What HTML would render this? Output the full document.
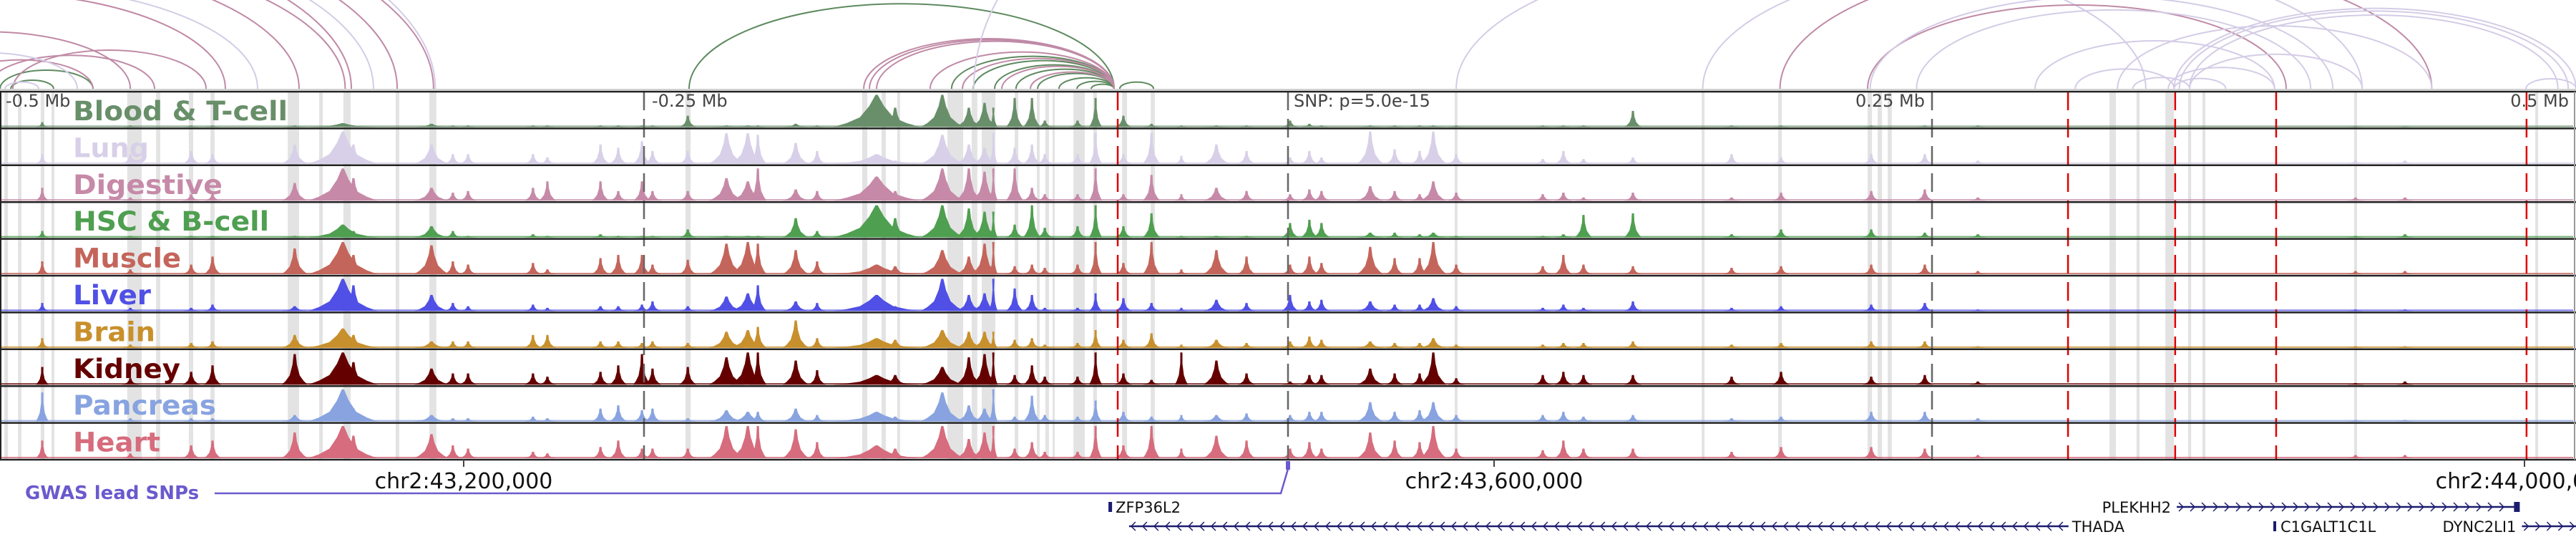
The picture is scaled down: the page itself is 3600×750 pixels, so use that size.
<!DOCTYPE html>
<html><head><meta charset="utf-8"><style>
html,body{margin:0;padding:0;background:#fff;}
svg{display:block;}
text{font-family:"DejaVu Sans","Liberation Sans",sans-serif;}
</style></head><body>
<svg id="chart" width="3600" height="750" viewBox="0 0 3600 750" xmlns="http://www.w3.org/2000/svg">
<g id="arcs"></g>
<line x1="0" y1="125" x2="3600" y2="125" stroke="#d0d0d0" stroke-width="2"/>
<g id="bands"></g>
<g id="tracks"></g>
<g id="vlines"></g>
<g id="frame"></g>
<g id="labels"></g>
<g id="axis">
  <text x="8" y="149" font-size="24" fill="#444">-0.5 Mb</text>
  <text x="911" y="149" font-size="24" fill="#444">-0.25 Mb</text>
  <text x="1808" y="149" font-size="24" fill="#444">SNP: p=5.0e-15</text>
  <text x="2690" y="149" font-size="24" fill="#444" text-anchor="end">0.25 Mb</text>
  <text x="3590" y="149" font-size="24" fill="#444" text-anchor="end">0.5 Mb</text>
</g>
<g id="bottom"></g>
<g id="gwas">
  <text x="35" y="697" font-size="26" font-weight="bold" fill="#6a5acd">GWAS lead SNPs</text>
</g>
<g id="genes"></g>
</svg>
<script>
// ---- data ----
const tissues = ["Blood & T-cell","Lung","Digestive","HSC & B-cell","Muscle","Liver","Brain","Kidney","Pancreas","Heart"];
const tissueColors = ["#688f69","#d8d0e8","#c68aa8","#4f9f50","#c4655b","#5050e6","#c8902c","#650000","#88a3e0","#d66c7d"];
const labelWidths = [300,106,209,274,151,109,115,150,200,122];
const peakKb = [-483.6,-449.4,-425.8,-417.5,-385.6,-366.9,-362.8,-332.5,-324.2,-318.3,
 -293.1,-287.5,-266.9,-260,-250.8,-246.7,-233,-218,-209.7,-205.8,
 -191.1,-182.8,-159.7,-152.5,-134.2,-123.9,-117.8,-114.4,-106.1,-99.4,
 -94.4,-81.7,-74.7,-63.9,-53,-41.4,-27.8,-16.1,0.8,8.3,
 13,31.9,41.4,51.1,56.4,65.3,98.9,106.9,114.7,133.9,
 172.2,191.4,226.4,247.2,267.8,414.4,433.6];
const peakWidthKb = [1.5,2,2,2,3,8,3,4,2,2,
 2,2,2,2,2,2,2,4,4,2,
 3,2,10,3,5,3,3,1,2,2,
 2,2,1.5,2,2,1.5,3,2,2,2,
 2,3,2,2,3,2,2,2,2,2,
 2,2,2,2,2,2,2];
const hBlood = [0.15,0.05,0.05,0.05,0.05,0.12,0.05,0.1,0.05,0.05, 0.05,0.05,0.05,0.05,0.05,0.05,0.35,0.05,0.05,0.05, 0.1,0.05,1.0,0.6,1.0,0.6,0.75,0.6,0.9,0.9, 0.2,0.2,0.9,0.35,0.1,0.05,0.05,0.05,0.2,0.1, 0.05,0.05,0.05,0.05,0.05,0.05,0.05,0.05,0.05,0.5, 0.05,0.05,0.05,0.05,0.05,0.03,0.03];
const hLung = [0.3,0.3,0.4,0.3,0.6,1.0,0.6,0.6,0.3,0.3, 0.3,0.2,0.6,0.5,0.7,0.4,0.4,0.95,0.95,0.9, 0.65,0.4,0.3,0.1,0.9,0.6,0.5,0.95,0.5,0.6, 0.3,0.3,0.95,0.3,0.95,0.25,0.6,0.4,0.2,0.4, 0.2,1.0,0.45,0.4,1.0,0.3,0.15,0.4,0.15,0.2, 0.3,0.2,0.3,0.3,0.1,0.1,0.1];
const hDigestive = [0.4,0.1,0.2,0.2,0.55,1.0,0.7,0.4,0.25,0.3, 0.4,0.6,0.6,0.3,0.6,0.3,0.3,0.7,0.6,1.0, 0.35,0.3,0.75,0.3,1.0,1.0,0.9,1.0,1.0,0.4, 0.2,0.2,1.0,0.2,0.8,0.2,0.4,0.3,0.2,0.35, 0.3,0.45,0.3,0.2,0.6,0.25,0.2,0.25,0.1,0.25, 0.1,0.25,0.3,0.35,0.1,0.1,0.1];
const hHSC = [0.2,0.05,0.05,0.05,0.05,0.4,0.2,0.35,0.2,0.05, 0.1,0.05,0.1,0.05,0.05,0.05,0.25,0.05,0.05,0.05, 0.6,0.2,1.0,0.6,1.0,0.9,0.8,0.8,0.4,1.0, 0.3,0.35,1.0,0.35,0.75,0.05,0.05,0.05,0.45,0.55, 0.45,0.15,0.15,0.1,0.15,0.05,0.05,0.1,0.7,0.75, 0.1,0.25,0.25,0.15,0.1,0.05,0.1];
const hMuscle = [0.4,0.15,0.3,0.55,0.8,1.0,0.6,0.9,0.4,0.3, 0.35,0.15,0.5,0.6,0.6,0.3,0.45,0.95,1.0,0.95, 0.75,0.4,0.3,0.25,0.75,0.55,0.95,1.0,0.25,0.3, 0.2,0.3,1.0,0.35,1.0,0.15,0.75,0.55,0.3,0.55, 0.35,0.85,0.5,0.5,1.0,0.3,0.25,0.6,0.3,0.25, 0.2,0.25,0.3,0.3,0.1,0.1,0.1];
const hLiver = [0.25,0.1,0.1,0.2,0.15,1.0,0.8,0.5,0.25,0.15, 0.2,0.1,0.15,0.15,0.2,0.3,0.15,0.45,0.55,0.8, 0.3,0.25,0.5,0.15,1.0,0.5,0.55,1.0,0.7,0.5, 0.1,0.1,0.55,0.4,0.25,0.1,0.35,0.25,0.5,0.3, 0.35,0.3,0.2,0.2,0.4,0.15,0.1,0.2,0.1,0.3, 0.1,0.15,0.2,0.25,0.05,0.05,0.05];
const hBrain = [0.3,0.1,0.15,0.2,0.4,0.6,0.4,0.2,0.2,0.2, 0.4,0.4,0.2,0.2,0.15,0.2,0.15,0.5,0.55,0.65, 0.85,0.3,0.3,0.25,0.55,0.5,0.5,0.5,0.25,0.3, 0.1,0.15,0.55,0.25,0.45,0.1,0.25,0.15,0.2,0.35, 0.25,0.2,0.15,0.15,0.3,0.1,0.1,0.15,0.15,0.2, 0.1,0.15,0.2,0.2,0.05,0.05,0.05];
const hKidney = [0.55,0.2,0.4,0.6,0.95,1.0,0.7,0.5,0.35,0.35, 0.35,0.25,0.4,0.6,0.95,0.5,0.55,0.85,1.0,1.0, 0.75,0.45,0.3,0.3,0.55,0.85,0.95,1.0,0.3,0.6, 0.25,0.25,1.0,0.35,0.15,1.0,0.75,0.35,0.1,0.3, 0.3,0.5,0.35,0.35,1.0,0.2,0.3,0.4,0.3,0.3, 0.25,0.4,0.25,0.3,0.1,0.05,0.1];
const hPancreas = [0.9,0.1,0.1,0.1,0.2,1.0,0.4,0.2,0.1,0.1, 0.15,0.1,0.4,0.5,0.35,0.4,0.1,0.35,0.3,0.3, 0.4,0.2,0.3,0.15,0.9,0.5,0.4,1.0,0.15,0.8, 0.2,0.15,0.65,0.3,0.15,0.2,0.2,0.25,0.2,0.3, 0.3,0.6,0.3,0.35,0.6,0.2,0.2,0.3,0.15,0.2, 0.1,0.15,0.3,0.3,0.1,0.05,0.05];
const hHeart = [0.55,0.15,0.4,0.55,0.8,1.0,0.7,0.75,0.4,0.3, 0.2,0.15,0.35,0.55,0.3,0.3,0.3,1.0,1.0,1.0, 0.9,0.5,0.4,0.3,1.0,0.6,0.8,1.0,0.3,0.5, 0.2,0.2,1.0,0.4,1.0,0.3,0.7,0.55,0.3,0.5, 0.3,0.8,0.55,0.5,1.0,0.3,0.25,0.55,0.3,0.3, 0.2,0.35,0.35,0.3,0.1,0.1,0.1];
const trackHeights = [hBlood,hLung,hDigestive,hHSC,hMuscle,hLiver,hBrain,hKidney,hPancreas,hHeart];
const bandStartKb = [-498.3,-493,-484.2,-480,-450.6,-439.4,-426.7,-418.3,-388.3,-376.1,-366.7,-346.4,-333.3,-233.9,-165.3,-157.8,-151.7,-132.2,-122.8,-118.9,-106.1,-97.5,-94.2,-91.4,-83.3,-75.6,-64.4,-53.3,64.7,160.6,190.3,225,228.9,232.8,318.9,329.4,340.6,349.4,355,413.9,484.2];
const bandEndKb =   [-496.9,-491.7,-482.8,-478.9,-445,-437.8,-425,-416.7,-383.9,-374.7,-363.9,-345,-330.6,-231.9,-163.3,-156.1,-150.6,-126.1,-120.6,-113.6,-104.7,-96.4,-92.8,-90.6,-78.9,-74.2,-62.5,-51.7,65.8,161.7,191.7,226.7,230.6,234.4,321.4,330.6,343.9,350.6,356.1,415,485.3];
const redLineKb = [-66.1,302.8,344.4,383.6,480.8];
const grayLineKb = [-250,0,250];
const arcStartKb = [-232.5,-130.6,-122.2,-113.9,-105.6,-97.2,-88.9,-81.9,-76.4,-65.3,-500,-495.8,
 -164.7,-162.5,-159.7,-138.9,-126.4,-111.1,-100,
 -720,-700,-690,-640,-600,-560,-520,-505,-495,-640,
 -760,-680,-600,-540,-498,-122,
 65.3,161,191,225,226,244,322,344,346,350,305.6,328,341.7,350,344,480.6,290];
const arcEndKb = [-67.5,-67.5,-67.5,-67.5,-67.5,-67.5,-67.5,-67.5,-67.5,-52.2,-463.9,-479.2,
 -67.5,-67.5,-67.5,-67.5,-67.5,-67.5,-67.5,
 -331.7,-345.8,-363.6,-383.9,-412.5,-449.4,-463.9,-440,-420,-366,
 -331,-355,-400,-470,-485,700,
 333,417,444,387.5,405.6,397,444,500,497,493,344,350,383,417,364,500,383];
const arcType = [0,0,0,0,0,0,0,0,0,0,0,0,
 1,1,1,1,1,1,1,
 1,1,1,1,1,1,1,1,1,1,
 2,2,2,2,2,2,
 2,2,1,1,2,2,2,2,2,2,2,2,2,2,2,2,2];
const arcColors = ["#5e8a5f","#c08aa6","#d4cce6"];
const tickKb = [-320,80,480];
const tickLabels = ["chr2:43,200,000","chr2:43,600,000","chr2:44,000,000"];
const snpKb = [0];
const geneNames = ["ZFP36L2","THADA","PLEKHH2","C1GALT1C1L","DYNC2LI1"];
const geneStartKb = [-69.7,-61.7,345,382.5,479];
const geneEndKb = [-68.3,303,476.5,383.3,520];
const geneStrand = [0,-1,1,0,1];
const geneRow = [0,1,0,1,1];

// ---- scales ----
const NS="http://www.w3.org/2000/svg";
const xs = kb => 1800 + kb*3.6;
const TOP=128, PITCH=51.4, MAXH=45;
const trackTop = i => TOP + i*PITCH;
function mk(tag, attrs, parent){const e=document.createElementNS(NS,tag);for(const k in attrs)e.setAttribute(k,attrs[k]);parent.appendChild(e);return e;}

// arcs
const gA=document.getElementById('arcs');
for(let i=0;i<arcStartKb.length;i++){
  const x1=xs(arcStartKb[i]), x2=xs(arcEndKb[i]);
  const rx=(x2-x1)/2, ry=(x2-x1)*0.2;
  const p=mk('path',{d:`M${x1},124 A${rx},${ry} 0 0 1 ${x2},124`,fill:'none',stroke:arcColors[arcType[i]],'stroke-width':2},gA);
  
  
}
// bands
const gB=document.getElementById('bands');
for(let i=0;i<bandStartKb.length;i++){
  const x1=xs(bandStartKb[i]), x2=xs(bandEndKb[i]);
  const r=mk('rect',{x:x1,y:TOP,width:Math.max(3,x2-x1),height:PITCH*10,fill:'#e3e3e3'},gB);
  
  
}
// tracks
const gT=document.getElementById('tracks');
for(let t=0;t<tissues.length;t++){
  const g=mk('g',{},gT);
  
  
  const b=trackTop(t)+PITCH-2;
  const base=mk('rect',{x:2,y:b-2,width:3594,height:2,fill:tissueColors[t],opacity:0.8},g);
  
  
  const hs=trackHeights[t];
  for(let i=0;i<peakKb.length;i++){
    const x=xs(peakKb[i]), W=peakWidthKb[i]*3.6*1.3, H=hs[i]*MAXH;
    const pts=[[x-W*1.3,b],[x-W*0.9,b-0.12*H],[x-W*0.5,b-0.3*H],[x-W*0.22,b-0.65*H],[x-1.5,b-H],[x+1.5,b-H],[x+W*0.22,b-0.65*H],[x+W*0.5,b-0.3*H],[x+W*0.9,b-0.12*H],[x+W*1.3,b]].map(p=>p.join(',')).join(' ');
    const pk=mk('polygon',{points:pts,fill:tissueColors[t]},g);
    
    
  }
}
// vertical marker lines
const gV=document.getElementById('vlines');
grayLineKb.forEach(k=>{
  const l=mk('line',{x1:xs(k),y1:TOP,x2:xs(k),y2:TOP+PITCH*10,stroke:'#666','stroke-width':2.5,'stroke-dasharray':'26 12'},gV);
  
  
});
redLineKb.forEach(k=>{
  const l=mk('line',{x1:xs(k),y1:TOP,x2:xs(k),y2:TOP+PITCH*10,stroke:'#e00000','stroke-width':2.5,'stroke-dasharray':'26 12'},gV);
  
  
});
// frame
const gF=document.getElementById('frame');
for(let i=0;i<=10;i++){
  const l=mk('line',{x1:0,y1:trackTop(i),x2:3600,y2:trackTop(i),stroke:'#222','stroke-width':2.5},gF);
  
  
}
mk('line',{x1:1,y1:TOP,x2:1,y2:TOP+PITCH*10,stroke:'#222','stroke-width':2},gF);
mk('line',{x1:3598,y1:TOP,x2:3598,y2:TOP+PITCH*10,stroke:'#999','stroke-width':2},gF);
// labels
const gL=document.getElementById('labels');
for(let t=0;t<tissues.length;t++){
  const tx=mk('text',{x:102,y:trackTop(t)+40,'font-size':37,'font-weight':'bold',fill:tissueColors[t],textLength:labelWidths[t],lengthAdjust:'spacingAndGlyphs'},gL);
  tx.textContent=tissues[t];
  
  
}
// bottom axis
const gBt=document.getElementById('bottom');
const axY=TOP+PITCH*10;
for(let i=0;i<tickKb.length;i++){
  const x=xs(tickKb[i]);
  const l=mk('line',{x1:x,y1:axY,x2:x,y2:axY+10,stroke:'#444','stroke-width':2},gBt);
  
  
  const tx=mk('text',{x:x,y:682,'font-size':30,'text-anchor':'middle',fill:'#111'},gBt);
  tx.textContent=tickLabels[i];
  
  
}
// GWAS
const gG=document.getElementById('gwas');
snpKb.forEach(k=>{
  const x=xs(k);
  const p=mk('path',{d:`M300,689 L${x-10},689 L${x},655`,fill:'none',stroke:'#6a5acd','stroke-width':2.5},gG);
  
  
  const r=mk('rect',{x:x-3,y:644,width:6,height:12,fill:'#6a5acd'},gG);
  
  
});
// genes
const gN=document.getElementById('genes');
for(let i=0;i<geneNames.length;i++){
  const x1=xs(geneStartKb[i]), x2=Math.min(3600,xs(geneEndKb[i]));
  const y=geneRow[i]==0?708:735;
  const g=mk('g',{},gN);
  
  
  if(geneStrand[i]===0){
    mk('rect',{x:x1,y:y-7,width:Math.max(4,x2-x1),height:14,fill:'#1c1c70'},g);
    const tx=mk('text',{x:x1+10,y:y+8,'font-size':21,fill:'#111'},g);
    tx.textContent=geneNames[i];
  } else {
    mk('line',{x1:x1,y1:y,x2:x2,y2:y,stroke:'#1c1c70','stroke-width':2.5},g);
    for(let x=x1+6;x<x2-4;x+=16){
      const d=geneStrand[i]>0?`M${x-3},${y-6} L${x+3},${y} L${x-3},${y+6}`:`M${x+3},${y-6} L${x-3},${y} L${x+3},${y+6}`;
      mk('path',{d:d,fill:'none',stroke:'#1c1c70','stroke-width':1.5},g);
    }
    if(geneStrand[i]>0 && geneEndKb[i]<500) mk('rect',{x:x2-2,y:y-7,width:8,height:14,fill:'#1c1c70'},g);
    const tx=mk('text',{x:geneStrand[i]>0?x1-8:x2+5,y:y+8,'font-size':21,fill:'#111','text-anchor':geneStrand[i]>0?'end':'start'},g);
    tx.textContent=geneNames[i];
  }
}
</script>
</body></html>
